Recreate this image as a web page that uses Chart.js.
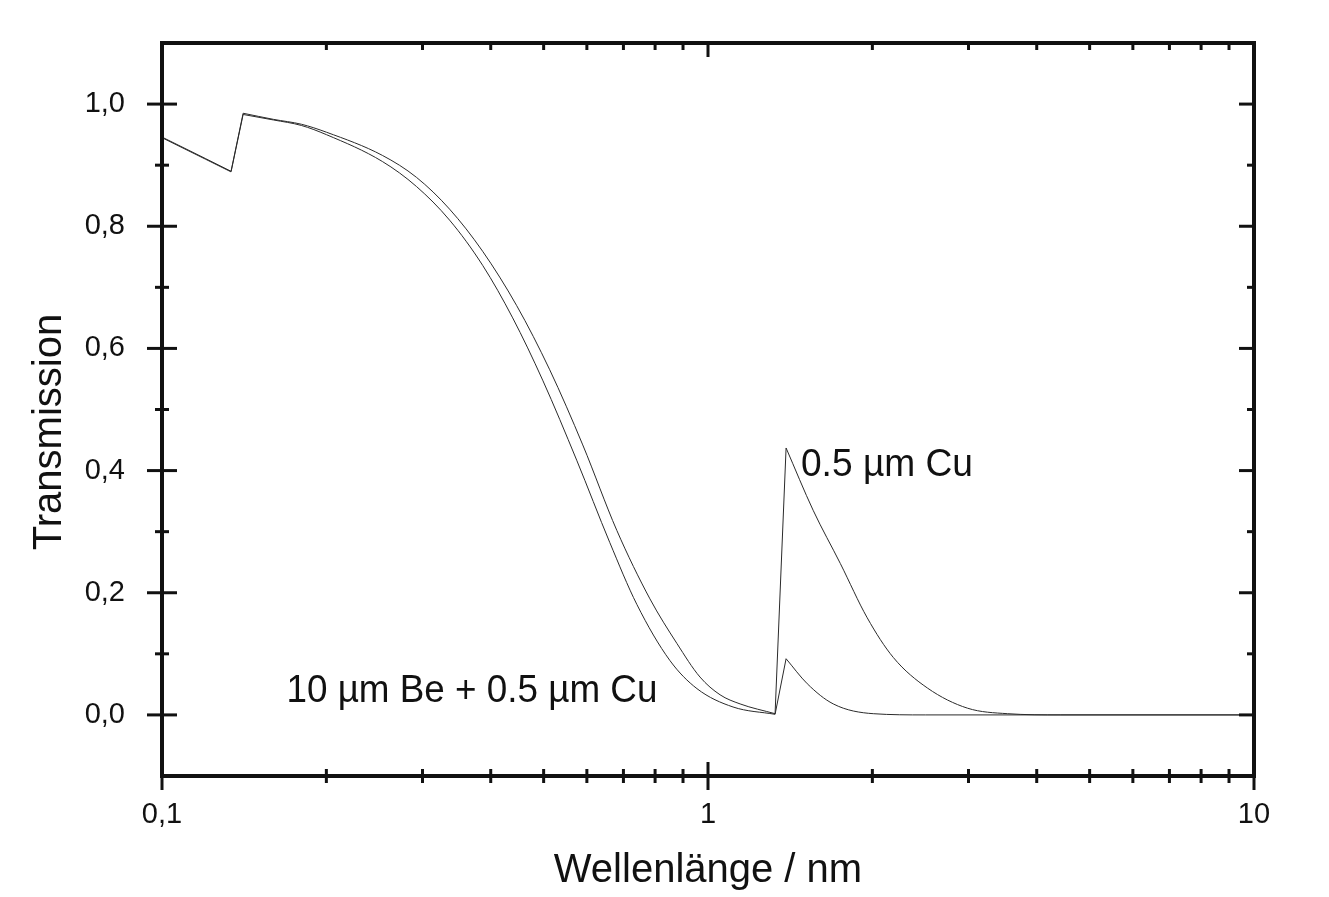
<!DOCTYPE html>
<html>
<head>
<meta charset="utf-8">
<script src="https://cdn.jsdelivr.net/npm/chart.js@4"></script>
<style>
  html, body { margin: 0; padding: 0; background: #fff; }
  #wrap { width: 1329px; height: 897px; position: relative; }
</style>
</head>
<body>
<div id="wrap"><canvas id="chart"></canvas></div>
<script>
// Wavelength (nm) and transmission
const CU_WL = [0.1, 0.12, 0.1338, 0.1408, 0.16, 0.18, 0.2, 0.2533, 0.2925, 0.3363, 0.3866, 0.4463, 0.513, 0.5897, 0.6808, 0.7828, 0.8771, 0.9668, 1.052, 1.145, 1.327, 1.39, 1.558, 1.747, 1.957, 2.185, 2.523, 2.988, 3.538, 4.425, 10]
const CU_T = [0.946, 0.911, 0.890, 0.985, 0.975, 0.967, 0.954, 0.916, 0.880, 0.828, 0.759, 0.670, 0.565, 0.442, 0.302, 0.190, 0.117, 0.062, 0.033, 0.018, 0.002, 0.437, 0.335, 0.248, 0.159, 0.094, 0.044, 0.011, 0.002, 0, 0]

const BECU_WL = [0.1, 0.12, 0.1338, 0.1408, 0.16, 0.18, 0.2, 0.2533, 0.2925, 0.3363, 0.3866, 0.4388, 0.498, 0.5748, 0.661, 0.7407, 0.8517, 0.9546, 1.1113, 1.327, 1.39, 1.52, 1.696, 2.008, 2.5, 10]
const BECU_T = [0.945, 0.910, 0.889, 0.983, 0.974, 0.965, 0.950, 0.906, 0.865, 0.810, 0.736, 0.650, 0.548, 0.417, 0.282, 0.181, 0.089, 0.043, 0.013, 0.001, 0.092, 0.051, 0.018, 0.002, 0, 0]

const X_MAJOR = [0.1, 1, 10]
const X_MINOR = [0.2, 0.3, 0.4, 0.5, 0.6, 0.7, 0.8, 0.9, 2, 3, 4, 5, 6, 7, 8, 9]
const Y_MAJOR = [0, 0.2, 0.4, 0.6, 0.8, 1.0]
const Y_MINOR = [0.1, 0.3, 0.5, 0.7, 0.9]

const LABELS = [
  { text: '0.5 µm Cu', x: 1.48, y: 0.409, maxWidth: 172 },
  { text: '10 µm Be + 0.5 µm Cu', x: 0.169, y: 0.038, maxWidth: 371 },
]

const FONT = "'Liberation Sans', Arial, sans-serif"
const INK = '#111'

// Split a curve at its turning points so the absorption edges stay sharp
// while the monotone spline keeps the rest smooth
function pieces(xs, ys) {
  const pts = xs.map((x, i) => ({ x, y: ys[i] }))
  const out = [[pts[0]]]
  let dir = 0
  for (let i = 1; i < pts.length; i++) {
    const d = Math.sign(pts[i].y - pts[i - 1].y)
    if (d !== 0 && dir !== 0 && d !== dir) out.push([pts[i - 1]])
    if (d !== 0) dir = d
    out[out.length - 1].push(pts[i])
  }
  return out
}

// Frame, in/out ticks, axis titles and curve labels
const frame = {
  id: 'frame',
  afterDraw(chart) {
    const { ctx, chartArea: a, scales: { x, y } } = chart
    const line = (x1, y1, x2, y2) => { ctx.beginPath(); ctx.moveTo(x1, y1); ctx.lineTo(x2, y2); ctx.stroke() }
    ctx.save()
    ctx.strokeStyle = INK
    ctx.lineWidth = 3
    X_MAJOR.forEach(v => {
      const px = x.getPixelForValue(v)
      line(px, a.bottom - 14, px, a.bottom + 14)
      line(px, a.top, px, a.top + 14)
    })
    X_MINOR.forEach(v => {
      const px = x.getPixelForValue(v)
      line(px, a.bottom - 7, px, a.bottom + 7)
      line(px, a.top, px, a.top + 7)
    })
    Y_MAJOR.forEach(v => {
      const py = y.getPixelForValue(v)
      line(a.left - 15, py, a.left + 15, py)
      line(a.right - 15, py, a.right, py)
    })
    Y_MINOR.forEach(v => {
      const py = y.getPixelForValue(v)
      line(a.left - 7, py, a.left + 7, py)
      line(a.right - 7, py, a.right, py)
    })
    ctx.lineWidth = 4
    ctx.strokeRect(a.left, a.top, a.right - a.left, a.bottom - a.top)

    ctx.fillStyle = INK
    ctx.textBaseline = 'middle'
    ctx.font = '40px ' + FONT
    ctx.textAlign = 'center'
    ctx.fillText('Wellenlänge / nm', (a.left + a.right) / 2, 871)
    ctx.save()
    ctx.translate(50, 432)
    ctx.rotate(-Math.PI / 2)
    ctx.fillText('Transmission', 0, 0)
    ctx.restore()

    ctx.font = '39px ' + FONT
    ctx.textAlign = 'left'
    LABELS.forEach(l => ctx.fillText(l.text, x.getPixelForValue(l.x), y.getPixelForValue(l.y), l.maxWidth))
    ctx.restore()
  },
}

const lineStyle = {
  borderColor: '#2a2a2a',
  borderWidth: 1,
  pointRadius: 0,
  fill: false,
  cubicInterpolationMode: 'monotone',
}

const datasets = [
  ...pieces(CU_WL, CU_T).map(p => ({ label: '0.5 µm Cu', data: p, ...lineStyle })),
  ...pieces(BECU_WL, BECU_T).map(p => ({ label: '10 µm Be + 0.5 µm Cu', data: p, ...lineStyle })),
]

new Chart(document.getElementById('chart'), {
  type: 'line',
  data: { datasets },
  options: {
    responsive: true,
    maintainAspectRatio: false,
    animation: false,
    layout: { padding: { top: 43, right: 75, left: 0, bottom: 0 } },
    plugins: { legend: { display: false }, tooltip: { enabled: false } },
    scales: {
      x: {
        type: 'logarithmic',
        min: 0.1,
        max: 10,
        grid: { display: false },
        border: { display: false },
        afterBuildTicks: s => { s.ticks = X_MAJOR.map(v => ({ value: v })) },
        afterFit: s => { s.height = 121; s.paddingLeft = 0; s.paddingRight = 0 },
        ticks: {
          autoSkip: false,
          maxRotation: 0,
          padding: 14,
          color: INK,
          font: { family: FONT, size: 29 },
          callback: v => String(v).replace('.', ','),
        },
      },
      y: {
        min: -0.1,
        max: 1.1,
        grid: { display: false },
        border: { display: false },
        afterBuildTicks: s => { s.ticks = Y_MAJOR.map(v => ({ value: v })) },
        afterFit: s => { s.width = 162; s.paddingTop = 0; s.paddingBottom = 0 },
        ticks: {
          padding: 29,
          color: INK,
          font: { family: FONT, size: 29 },
          callback: v => v.toFixed(1).replace('.', ','),
        },
      },
    },
  },
  plugins: [frame],
})
</script>
</body>
</html>
